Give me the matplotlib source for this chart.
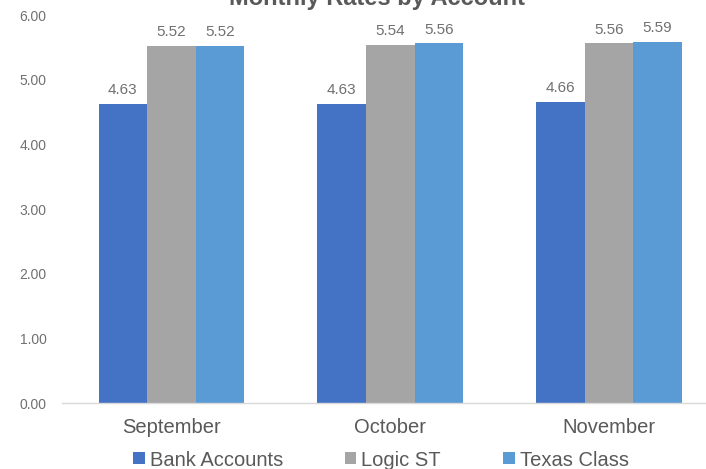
import matplotlib
matplotlib.use('Agg')
import matplotlib.pyplot as plt
import numpy as np

plt.rcParams['font.family'] = ['Liberation Sans', 'DejaVu Sans']

# data
months = ['September', 'October', 'November']
series_names = ['Bank Accounts', 'Logic ST', 'Texas Class']
bank_accounts = [4.63, 4.63, 4.66]
logic_st = [5.52, 5.54, 5.56]
texas_class = [5.52, 5.56, 5.59]
colors = ['#4472C4', '#A5A5A5', '#5B9BD5']

fig = plt.figure(figsize=(7.06, 4.69), dpi=100)
ax = fig.add_axes([62 / 706, 66 / 469, 1 - 62 / 706, 388 / 469])

x = np.arange(len(months))
w = 0.222
for i, (vals, name) in enumerate(zip([bank_accounts, logic_st, texas_class], series_names)):
    ax.bar(x + (i - 1) * w, vals, w, color=colors[i], label=name)
    for xi, v in zip(x + (i - 1) * w, vals):
        ax.annotate(f'{v:.2f}', (xi, v), xytext=(0, 5), textcoords='offset points',
                    ha='center', va='bottom', fontsize=11, color='#707070')

ax.set_xlim(-0.5, 2.443)
ax.set_ylim(0, 6)
ax.set_yticks(np.arange(0, 7, 1))
ax.set_yticklabels([f'{t:.2f}' for t in range(7)])
ax.set_xticks(x)
ax.set_xticklabels(months)

for s in ['top', 'right', 'left']:
    ax.spines[s].set_visible(False)
ax.spines['bottom'].set_color('#D9D9D9')
ax.spines['bottom'].set_linewidth(1)
ax.tick_params(axis='y', length=0, pad=11, labelsize=10, labelcolor='#707070')
ax.tick_params(axis='x', length=0, pad=11, labelsize=14.5, labelcolor='#595959')

# title is partly cut off at the top, like in the original
fig.text(377 / 706, 1 - 5 / 469, 'Monthly Rates by Account', ha='center', va='baseline',
         fontsize=17, fontweight='bold', color='#595959')

leg = fig.legend(loc='center', bbox_to_anchor=(381 / 706, 1 - 460 / 469), ncol=3,
                 frameon=False, fontsize=14.5, handlelength=0.55, handleheight=0.55,
                 handletextpad=0.25, columnspacing=3.1, borderpad=0)
for t in leg.get_texts():
    t.set_color('#595959')

plt.savefig('out.png', dpi=100)
